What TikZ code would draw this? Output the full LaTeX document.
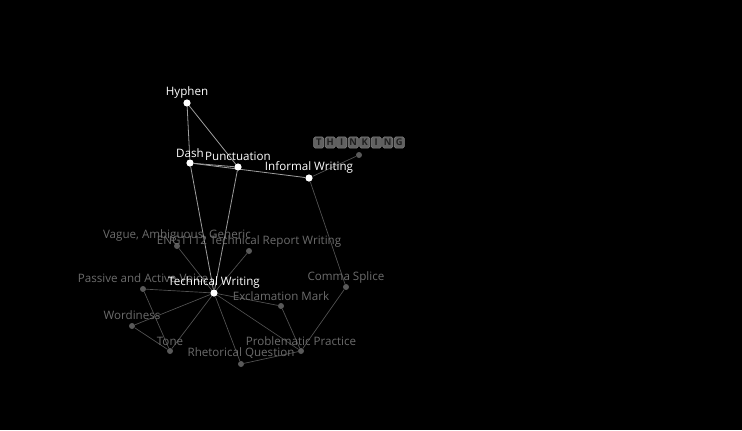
\documentclass[tikz,border=0pt]{standalone}
\usepackage{fontspec}
\setmainfont{Open Sans}
\begin{document}
\begin{tikzpicture}[x=0.75pt,y=-0.75pt,
  mainpt/.style={circle,inner sep=0pt,minimum size=5.4pt},
  subpt/.style={circle,inner sep=0pt,minimum size=4.5pt},
  mainlbl/.style={text=white,font=\fontsize{8.7}{10}\selectfont,inner sep=0pt},
  sublbl/.style={text=gray!85!black,font=\fontsize{8.7}{10}\selectfont,inner sep=0pt},
  mainedge/.style={draw=white!62!black,line width=0.6pt},
  subedge/.style={draw=gray!65!black,line width=0.5pt},
  letterbox/.style={fill=black!62,draw=black!50,line width=0.4pt,rounded corners=1.2pt,minimum width=7.6pt,minimum height=8.4pt,inner sep=0pt,text=black!88,font=\fontsize{7}{7}\selectfont\bfseries}]
\fill[black] (0,0) rectangle (742,430);
\useasboundingbox (0,0) rectangle (742,430);
% nodes
\node[mainpt] (hyp) at (187,103) {};
\node[mainpt] (dash) at (190,163) {};
\node[mainpt] (punc) at (238,167) {};
\node[mainpt] (inf) at (309,178) {};
\node[subpt] (thk) at (359,155) {};
\node[mainpt] (tw) at (214,293) {};
\node[subpt] (vag) at (177,246) {};
\node[subpt] (eng) at (249,251) {};
\node[subpt] (pas) at (143,289) {};
\node[subpt] (wor) at (132,326) {};
\node[subpt] (ton) at (170,351) {};
\node[subpt] (rhe) at (241,364) {};
\node[subpt] (pro) at (301,351) {};
\node[subpt] (exc) at (281,306) {};
\node[subpt] (com) at (346,287) {};
% edges
\draw[mainedge] (hyp) -- (dash);
\draw[mainedge] (hyp) -- (punc);
\draw[mainedge] (dash) -- (punc);
\draw[mainedge] (dash) -- (inf);
\draw[mainedge] (dash) -- (tw);
\draw[mainedge] (punc) -- (tw);
\draw[subedge] (inf) -- (thk);
\draw[subedge] (inf) -- (com);
\draw[subedge] (tw) -- (vag);
\draw[subedge] (tw) -- (eng);
\draw[subedge] (tw) -- (pas);
\draw[subedge] (tw) -- (wor);
\draw[subedge] (tw) -- (ton);
\draw[subedge] (tw) -- (rhe);
\draw[subedge] (tw) -- (pro);
\draw[subedge] (tw) -- (exc);
\draw[subedge] (pas) -- (ton);
\draw[subedge] (wor) -- (ton);
\draw[subedge] (exc) -- (pro);
\draw[subedge] (com) -- (pro);
\draw[subedge] (rhe) -- (pro);
% dots
\foreach \n in {hyp,dash,punc,inf,tw}{\fill[white] (\n) circle (2.7pt);}
\foreach \n in {thk,vag,eng,pas,wor,ton,rhe,pro,exc,com}{\fill[gray!70!black] (\n) circle (2.25pt);}
% labels
\node[mainlbl] (lhyp) at (187,92) {Hyphen};
\node[mainlbl] (ldash) at (190,153) {Dash};
\node[mainlbl] (lpunc) at (238,156) {Punctuation};
\node[mainlbl] (linf) at (309,167) {Informal Writing};
\node[sublbl] (lvag) at (177,235) {Vague, Ambiguous, Generic};
\node[sublbl] (leng) at (249,241) {ENG1112 Technical Report Writing};
\node[sublbl] (lpas) at (143,278) {Passive and Active Voice};
\node[mainlbl] (ltw) at (214,282) {Technical Writing};
\node[sublbl] (lwor) at (132,315) {Wordiness};
\node[sublbl] (lton) at (170,341) {Tone};
\node[sublbl] (lrhe) at (241,353) {Rhetorical Question};
\node[sublbl] (lpro) at (301,341) {Problematic Practice};
\node[sublbl] (lexc) at (281,296) {Exclamation Mark};
\node[sublbl] (lcom) at (346,277) {Comma Splice};
\foreach \c [count=\i] in {T,H,I,N,K,I,N,G}{
  \node[letterbox] (tk\i) at ({313+11.5*\i-5.75},142.5) {\c};
}
\end{tikzpicture}
\end{document}
